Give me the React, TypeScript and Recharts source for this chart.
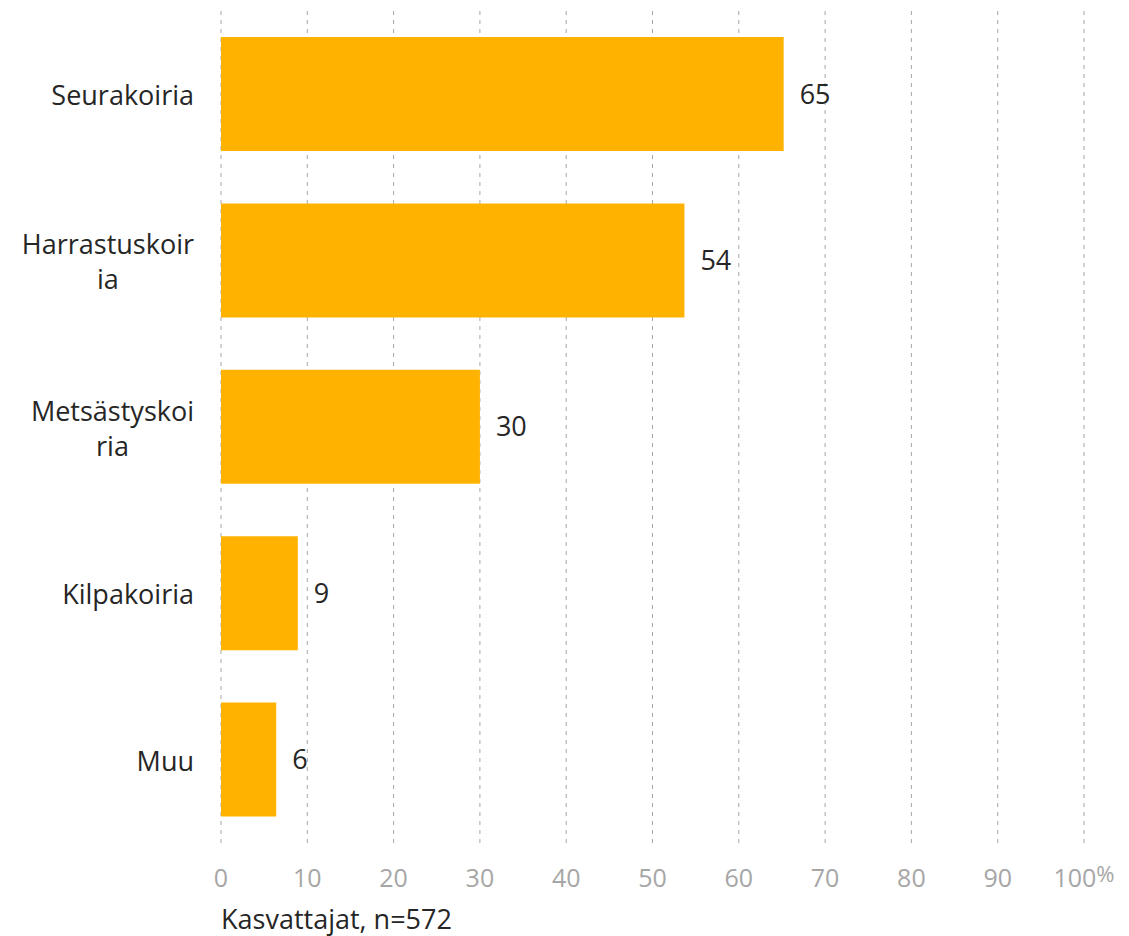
import React from "react";
import { BarChart, Bar, XAxis, YAxis, CartesianGrid, LabelList, Label } from "recharts";

const categories = ["Seurakoiria", "Harrastuskoiria", "Metsästyskoiria", "Kilpakoiria", "Muu"];
const labelLines = [["Seurakoiria"], ["Harrastuskoir", "ia"], ["Metsästyskoi", "ria"], ["Kilpakoiria"], ["Muu"]];
const shares = [65.2, 53.7, 30.0, 8.9, 6.4];
const xTicks = [0, 10, 20, 30, 40, 50, 60, 70, 80, 90, 100];
const axisTitle = "Kasvattajat, n=572";

const data = categories.map((name, i) => ({ name, value: shares[i], lines: labelLines[i] }));

const FONT = "'Open Sans', sans-serif";

let ctx: CanvasRenderingContext2D | null = null;
const measure = (s: string, size: number) => {
  if (!ctx) ctx = document.createElement("canvas").getContext("2d");
  if (!ctx) return s.length * size * 0.55;
  ctx.font = `${size}px 'Open Sans'`;
  return ctx.measureText(s).width;
};

const CategoryTick = (props: any) => {
  const { x, y, payload } = props;
  const idx = categories.indexOf(payload.value);
  const lines = labelLines[idx] || [payload.value];
  const size = 27;
  const w = Math.max(...lines.map((l) => measure(l, size)));
  const cx = x - w / 2;
  const lh = 35;
  const top = y - ((lines.length - 1) * lh) / 2;
  return (
    <text x={cx} y={top} textAnchor="middle" fill="#262626" fontSize={size} fontFamily={FONT} dominantBaseline="central">
      {lines.map((l, i) => (
        <tspan key={i} x={cx} y={top + i * lh}>{l}</tspan>
      ))}
    </text>
  );
};

const ValueTick = (props: any) => {
  const { x, y, payload } = props;
  return (
    <text x={x} y={y} textAnchor="middle" fill="#A6A6A6" fontSize={25} fontFamily={FONT} dominantBaseline="central">
      {payload.value}
      {payload.value === 100 ? <tspan fontSize={22} dy={-4}>%</tspan> : null}
    </text>
  );
};

const App = () => {
  return (
    <BarChart
      width={1121}
      height={928}
      data={data}
      layout="vertical"
      margin={{ top: 3, right: 45, bottom: 0, left: 0 }}
      barSize={114}
    >
      <CartesianGrid horizontal={false} stroke="#A6A6A6" strokeDasharray="4 5" />
      <XAxis
        type="number"
        domain={[0, 100]}
        ticks={xTicks}
        axisLine={false}
        tickLine={false}
        height={93}
        tick={<ValueTick />}
        tickMargin={28}
      >
        <Label
          content={(p: any) => (
            <text x={p.viewBox.x} y={p.viewBox.y + 75} fill="#262626" fontSize={27} fontFamily={FONT} dominantBaseline="central">
              {axisTitle}
            </text>
          )}
        />
      </XAxis>
      <YAxis
        type="category"
        dataKey="name"
        width={213}
        axisLine={false}
        tickLine={false}
        tick={<CategoryTick />}
        tickMargin={21}
        interval={0}
      />
      <Bar dataKey="value" fill="#FFB300" isAnimationActive={false}>
        <LabelList
          dataKey="value"
          position="right"
          offset={16}
          formatter={(v: any) => Math.round(v)}
          fill="#262626"
          fontSize={27}
          fontFamily={FONT}
        />
      </Bar>
    </BarChart>
  );
};

export default App;
